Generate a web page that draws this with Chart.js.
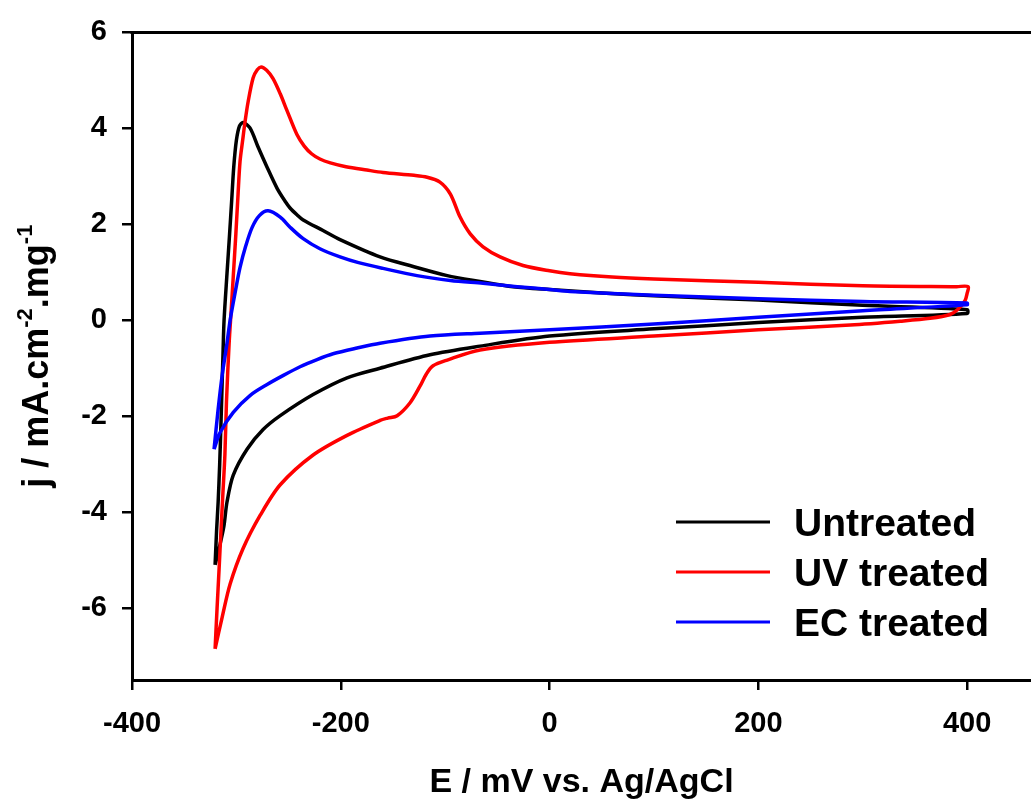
<!DOCTYPE html>
<html lang="en">
<head>
<meta charset="UTF-8">
<title>CV curves</title>
<script src="https://cdn.jsdelivr.net/npm/chart.js"></script>
<style>
  html, body { margin: 0; padding: 0; background: #fff; }
  #wrap { width: 1031px; height: 804px; position: relative; }
</style>
</head>
<body>
<div id="wrap"><canvas id="cv"></canvas></div>
<script>
// E (mV vs Ag/AgCl) and j (mA.cm-2.mg-1), each list follows the scan loop
const untreatedE = [-320.4, -319, -317.5, -316, -314.7, -312.7, -311.8, -309, -306.5, -304.5, -302.5, -300, -297, -293.6,
  -287, -279, -270.6, -261, -253, -248.6, -242, -236, -217, -200.7, -162.4, -130.7, -98, -66.6, -35, 0, 50, 100, 200, 300, 400,
  400, 300, 200, 100, 0, -66.6, -114.5, -162.4, -194, -226.5, -258, -274.4, -289.8, -303, -309, -312, -316.5, -320.4];
const untreatedJ = [-5.1, -4.4, -3.8, -3.0, -2.1, -0.6, 0, 0.97, 1.8, 2.5, 3.2, 3.75, 4.05, 4.12,
  4.01, 3.6, 3.19, 2.75, 2.47, 2.34, 2.2, 2.09, 1.87, 1.68, 1.32, 1.12, 0.93, 0.81, 0.70, 0.64, 0.57, 0.51, 0.42, 0.31, 0.22,
  0.14, 0.06, -0.05, -0.18, -0.33, -0.54, -0.72, -1.0, -1.2, -1.55, -1.99, -2.28, -2.69, -3.23, -3.79, -4.3, -4.75, -5.1];

const uvE = [-320.4, -318.5, -316.6, -314.8, -312.9, -311, -309.5, -307, -305, -303, -300.5, -298.4, -296.5, -294,
  -291.7, -288.8, -284, -280, -276.3, -271, -265, -258, -251.7, -242, -235, -228, -220, -210, -195, -175, -159.5, -130, -117.3,
  -105, -95, -85.7, -76, -63.7, -47.4, -25.4, 0, 19.6, 60, 100, 200, 300, 390, 401,
  400, 398, 391.3, 383.6, 364.5, 336, 288, 200, 100, 0, -66.6, -98, -111.6, -118, -124, -133.6, -146, -155, -162.4,
  -194, -226.5, -258, -277, -293.6, -306, -313.7, -320.4];
const uvJ = [-6.85, -6.0, -5.2, -4.4, -3.6, -2.8, -1.7, -0.5, 0.2, 0.91, 1.8, 2.63, 3.31, 3.75,
  4.14, 4.55, 5.05, 5.22, 5.28, 5.21, 5.04, 4.72, 4.38, 3.87, 3.63, 3.47, 3.36, 3.28, 3.2, 3.13, 3.08, 3.02, 2.98,
  2.88, 2.63, 2.15, 1.8, 1.53, 1.32, 1.14, 1.03, 0.97, 0.9, 0.86, 0.79, 0.72, 0.70, 0.70,
  0.56, 0.41, 0.23, 0.12, 0.04, -0.02, -0.1, -0.2, -0.33, -0.46, -0.62, -0.83, -0.95, -1.12, -1.37, -1.72, -1.99, -2.04, -2.09,
  -2.4, -2.81, -3.43, -4.06, -4.76, -5.5, -6.2, -6.85];

const ecE = [-321.4, -317.5, -313.7, -309, -306, -301, -296.5, -291, -285, -278, -269.6, -258, -248.6, -236,
  -220, -200.7, -183, -159.5, -127, -95, -63.7, -31, 0, 19.6, 100, 200, 300, 400,
  400, 300, 200, 100, 0, -66.6, -114.5, -162.4, -184.4, -207.4, -222.7, -239, -255, -270.6, -287, -303, -315.6, -321.4];
const ecJ = [-2.69, -1.86, -1.16, -0.48, 0, 0.6, 1.1, 1.55, 1.93, 2.18, 2.28, 2.15, 1.94, 1.70,
  1.49, 1.32, 1.20, 1.08, 0.93, 0.83, 0.77, 0.70, 0.64, 0.6, 0.52, 0.45, 0.39, 0.36,
  0.32, 0.2, 0.06, -0.08, -0.2, -0.27, -0.33, -0.48, -0.58, -0.70, -0.82, -0.97, -1.15, -1.34, -1.57, -1.92, -2.34, -2.69];

const seriesLabels = ['Untreated', 'UV treated', 'EC treated'];
const seriesColors = ['#000000', '#ff0000', '#0000ff'];
const xTicks = [-400, -200, 0, 200, 400];
const yTicks = [-6, -4, -2, 0, 2, 4, 6];

const FAMILY = 'Arial, "Liberation Sans", sans-serif';
Chart.defaults.font.family = FAMILY;
Chart.defaults.color = '#000';

function toPoints(xs, ys) {
  return xs.map((x, i) => ({ x: x, y: ys[i] }));
}

// top frame edge, y title with superscripts, legend
const extrasPlugin = {
  id: 'extras',
  afterDraw(chart) {
    const ctx = chart.ctx;
    const a = chart.chartArea;
    ctx.save();

    ctx.strokeStyle = '#000';
    ctx.lineWidth = 3;
    ctx.beginPath();
    ctx.moveTo(a.left - 1.5, a.top);
    ctx.lineTo(a.right, a.top);
    ctx.stroke();

    // y axis title
    const parts = [['j / mA.cm', 36, 0], ['-2', 22, -16], ['.mg', 36, 0], ['-1', 22, -16]];
    let total = 0;
    parts.forEach(p => {
      ctx.font = 'bold ' + p[1] + 'px ' + FAMILY;
      total += ctx.measureText(p[0]).width;
    });
    ctx.translate(a.left - 84, (a.top + a.bottom) / 2);
    ctx.rotate(-Math.PI / 2);
    ctx.fillStyle = '#000';
    ctx.textBaseline = 'alphabetic';
    ctx.textAlign = 'left';
    let pos = -total / 2;
    parts.forEach(p => {
      ctx.font = 'bold ' + p[1] + 'px ' + FAMILY;
      ctx.fillText(p[0], pos, p[2]);
      pos += ctx.measureText(p[0]).width;
    });
    ctx.setTransform(1, 0, 0, 1, 0, 0);

    // legend
    ctx.font = 'bold 39px ' + FAMILY;
    chart.data.datasets.forEach((ds, i) => {
      const y = a.bottom - 158 + i * 50;
      ctx.strokeStyle = ds.borderColor;
      ctx.lineWidth = 3;
      ctx.beginPath();
      ctx.moveTo(a.right - 355, y);
      ctx.lineTo(a.right - 261, y);
      ctx.stroke();
      ctx.fillStyle = '#000';
      ctx.fillText(ds.label, a.right - 237, y + 14);
    });
    ctx.restore();
  }
};

const ctx = document.getElementById('cv').getContext('2d');
const curves = [toPoints(untreatedE, untreatedJ), toPoints(uvE, uvJ), toPoints(ecE, ecJ)];

new Chart(ctx, {
  type: 'scatter',
  data: {
    datasets: curves.map((pts, i) => ({
      label: seriesLabels[i],
      data: pts,
      showLine: true,
      borderColor: seriesColors[i],
      backgroundColor: seriesColors[i],
      borderWidth: 3.5,
      pointRadius: 0,
      tension: 0.3,
      fill: false,
      order: 3 - i
    }))
  },
  options: {
    responsive: true,
    maintainAspectRatio: false,
    animation: false,
    devicePixelRatio: 1,
    layout: { padding: { top: 27, right: 0, bottom: 0, left: 0 } },
    plugins: {
      legend: { display: false },
      tooltip: { enabled: false }
    },
    scales: {
      x: {
        type: 'linear',
        min: -400,
        max: 461.2,
        afterBuildTicks: s => { s.ticks = xTicks.map(v => ({ value: v })); },
        afterFit: s => { s.height = 124; },
        grid: { drawOnChartArea: false, drawTicks: true, tickLength: 10, color: '#000', lineWidth: 2.5 },
        border: { color: '#000', width: 3 },
        ticks: { font: { size: 29, weight: 'bold' }, padding: 17, color: '#000', maxRotation: 0 },
        title: {
          display: true,
          text: 'E / mV vs. Ag/AgCl',
          font: { size: 34, weight: 'bold', lineHeight: 1 },
          padding: { top: 0, bottom: 4 },
          color: '#000'
        }
      },
      y: {
        type: 'linear',
        min: -7.5,
        max: 6,
        afterBuildTicks: s => { s.ticks = yTicks.map(v => ({ value: v })); },
        afterFit: s => { s.width = 132; },
        grid: { drawOnChartArea: false, drawTicks: true, tickLength: 10, color: '#000', lineWidth: 2.5 },
        border: { color: '#000', width: 3 },
        ticks: { font: { size: 29, weight: 'bold' }, padding: 15, color: '#000' }
      }
    }
  },
  plugins: [extrasPlugin]
});
</script>
</body>
</html>
